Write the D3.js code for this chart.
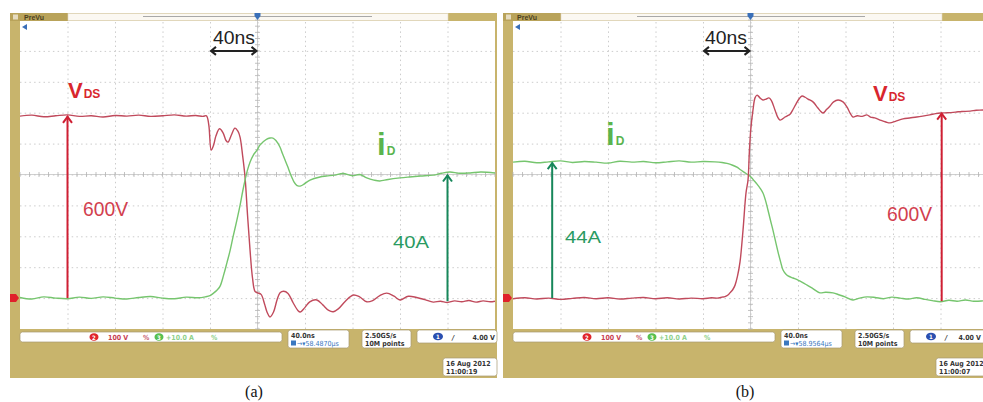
<!DOCTYPE html>
<html><head><meta charset="utf-8">
<script src="https://cdn.jsdelivr.net/npm/d3@7"></script>
<style>body{margin:0;background:#fff}svg{display:block}</style>
</head><body>
<svg id="c" width="983" height="402"></svg>
<script>
// ---------- data ----------
const timeDomain = [-200, 200];   // ns  (40 ns/div, 10 div)
const voltDomain = [-100, 900];   // V   (100 V/div, ground at -4 div)
const ampDomain  = [-10, 90];     // A   (10 A/div, ground at -4 div)
const divDomain  = [-5, 5];
const gridTimes  = [-160, -120, -80, -40, 0, 40, 80, 120, 160];
const gridDivs   = [-4, -3, -2, -1, 0, 1, 2, 3, 4];

// panel (a): turn-on — [time ns, value]
const vdsA = [[-200,589],[-190,592],[-180,587],[-170,590],[-160,593],[-150,588],[-140,590],[-130,586],[-120,591],[-110,589],[-100,592],[-90,588],[-80,590],[-70,593],[-60,589],[-52,591],[-46,588],[-43,590],[-41,560],[-39,479],[-37,495],[-35,525],[-32,548],[-29,535],[-26.5,510],[-24.8,505],[-22,528],[-19,550],[-16.5,540],[-14.7,521],[-12.5,460],[-10.5,392],[-8.4,269],[-6.3,156],[-4.2,65],[-2.1,22],[0,17],[3,12],[6,-20],[8,-45],[10.5,-61],[13.5,-45],[16.5,-5],[19,17],[22,22],[25.7,15],[30,-15],[34,-40],[36,-45],[40,-30],[44,-12],[50,-6],[55,-22],[60,-40],[63.8,-44],[68,-35],[74,-10],[80.7,10],[86,4],[92,-12],[97,-8],[103,8],[108.8,16],[115,6],[120,-6],[127,6],[134,2],[141,-5],[148,-13],[154,-10],[160,-14],[166,-9],[172,-12],[178,-8],[184,-13],[190,-9],[196,-12],[200,-10]];
const idA = [[-200,0.2],[-190,-0.3],[-180,0.4],[-170,0],[-160,-0.2],[-150,0.3],[-140,-0.1],[-130,0.4],[-120,0],[-110,-0.3],[-100,0.2],[-90,0.5],[-80,0],[-70,-0.2],[-60,0.3],[-50,0.1],[-44,0.4],[-40,0.8],[-37,1.6],[-34,2.6],[-31.6,3.8],[-28.5,7.5],[-25.7,11.5],[-23,15.5],[-20.6,19.8],[-17.5,25],[-14.7,30],[-12.5,34.5],[-10.5,38.2],[-8.4,41.5],[-6.3,44],[-3.5,46.3],[-0.4,47.9],[2,49.5],[4.6,50.5],[7.5,51.4],[10.5,51.8],[13,51.8],[15.5,51],[18.9,48.9],[21,46.8],[23.2,44.7],[25.5,42.5],[27.4,40.5],[29,39],[30.7,37.6],[32.5,36.7],[34.1,36.3],[36.5,36.3],[39.2,36.9],[44.2,38.2],[52.6,39.2],[58,39.5],[65,39.8],[72,40.3],[80,39.6],[86,40],[92,38.9],[98,38.2],[103,37.9],[110,38.4],[120,38.9],[128,39.2],[137,39.5],[148,39.8],[155,40.4],[162,40.8],[170,40.4],[179,40.5],[188,40.8],[200,40.5]];

// panel (b): turn-off — [time ns, value]
const vdsB = [[-200,-2],[-190,1],[-180,-3],[-170,0],[-160,-4],[-150,-1],[-140,2],[-130,-2],[-120,1],[-110,-3],[-100,0],[-90,2],[-80,-2],[-70,1],[-60,-3],[-50,0],[-40,-2],[-33,1],[-28,0],[-24,3],[-21.5,5],[-19,10],[-17.3,17],[-15,27],[-13,42],[-11,70],[-8.8,118],[-6.3,220],[-3.8,340],[-2.1,382],[-1,470],[0.2,544],[2.1,609],[3.8,648],[5.5,657],[7,652],[8.5,646],[10.5,641],[13,644],[15.5,648],[17.5,640],[20.6,609],[23,585],[24.8,576],[27,580],[29,586],[31,590],[33.3,595],[36,612],[38.3,628],[41,645],[43.4,654],[46,650],[48.4,644],[52.6,635],[56.8,615],[59,605],[61.1,599],[64,610],[67,622],[70,635],[73.7,641],[77.9,635],[81.3,618],[84,598],[86.3,586],[90,590],[94,588],[98,593],[101,586],[104.6,583],[110,575],[114,570],[117.5,567],[122,572],[128.4,580],[134,583],[140,586],[145,589],[151,593],[156,597],[160,599],[166,600],[172.6,602],[178,604],[185,605],[190,608],[196,609],[200,612]];
const idB = [[-200,44],[-190,44.3],[-180,43.8],[-170,44.1],[-160,44.4],[-150,43.9],[-140,44.2],[-130,44],[-120,43.7],[-110,44.3],[-100,44],[-90,44.2],[-80,43.8],[-70,44.1],[-60,44.4],[-50,44],[-40,44.2],[-30,44.1],[-24,43.9],[-19.8,43.6],[-15,43],[-11,42.3],[-8.8,41.6],[-4,40.4],[0.4,39.2],[3,38],[5.5,36.9],[8,35.6],[10.5,34],[12.5,31.8],[14.7,28.5],[16.8,25.2],[18.9,22],[21,18.5],[23.2,14.9],[25.3,11.8],[27.4,9.1],[29.5,7.9],[31.6,7.2],[35.8,6.5],[40,5.8],[44,5],[47.6,4.2],[52,3.2],[58.5,1.7],[63,1.9],[69.5,1.7],[75,1],[79.6,0.4],[86.3,-0.6],[92,0],[98,0.4],[105,0.2],[112,-0.2],[119,0.3],[126,0],[133,-0.3],[140,0.1],[147,-0.4],[153,-0.8],[160,-1.2],[167,-0.7],[174,-1],[181,-0.6],[188,-1],[196,-0.9],[200,-0.8]];

// annotation values: [time ns, from, to]
const vArrowA = [-160, 0, 590];
const iArrowA = [160, -1, 40];
const vArrowB = [161, -10, 600];
const iArrowB = [-167, 0, 44];
const spanArrow = [-40, 0, 800];   // 40 ns span drawn at the +4 div line (800 V level)

const labelsA = {span:"40ns", v:"600V", i:"40A"};
const labelsB = {span:"40ns", v:"600V", i:"44A"};
const scopeA = ["100 V","+10.0 A","40.0ns","\u2192\u25BE58.4870\u00B5s","2.50GS/s","10M points","4.00 V","16 Aug 2012","11:00:19"];
const scopeB = ["100 V","+10.0 A","40.0ns","\u2192\u25BE58.9564\u00B5s","2.50GS/s","10M points","4.00 V","16 Aug 2012","11:00:07"];
const captions = ["(a)","(b)"];

// ---------- drawing ----------
const svg = d3.select("#c");
const W = 983;
const KHAKI = "#c8b46c", KHAKI_D = "#b9a35a";
const RED_TR = "#c04a5c", GRN_TR = "#76c56e";
const RED_AR = "#cf1f33", GRN_AR = "#17875a";
const SANS = "'Liberation Sans', Arial, Helvetica, sans-serif";
const PT = 20, PB = 329;

function drawPanel(cfg, idx){
  const {L, plotL, vds, id, vArrow, iArrow, labels, scope} = cfg;
  const plotR = plotL + 475;
  const g = svg.append("g");
  const x = d3.scaleLinear().domain(timeDomain).range([plotL, plotR]);
  const yV = d3.scaleLinear().domain(voltDomain).range([PB, PT]);
  const yI = d3.scaleLinear().domain(ampDomain).range([PB, PT]);
  const yD = d3.scaleLinear().domain(divDomain).range([PB, PT]);

  // frame
  g.append("rect").attr("x", L).attr("y", 13).attr("width", plotR - L + 2).attr("height", 365).attr("fill", KHAKI);
  g.append("rect").attr("x", plotL).attr("y", 21).attr("width", 475).attr("height", PB - 21).attr("fill", "#fff");
  // top bar
  g.append("rect").attr("x", L).attr("y", 13).attr("width", 58).attr("height", 8).attr("fill", KHAKI_D);
  g.append("rect").attr("x", L + 58).attr("y", 13.5).attr("width", (cfg.topKhaki - L - 58)).attr("height", 7).attr("fill", "#fbf8f2").attr("stroke", "#e2d8c4").attr("stroke-width", 0.6);
  g.append("line").attr("x1", cfg.barLine[0]).attr("x2", cfg.barLine[1]).attr("y1", 16.5).attr("y2", 16.5).attr("stroke", "#a8a8a8").attr("stroke-width", 1);
  g.append("rect").attr("x", L + 3).attr("y", 14.5).attr("width", 5).attr("height", 5).attr("fill", "#e6dcc0");
  g.append("text").attr("x", L + 14).attr("y", 19.5).attr("font-family", SANS).attr("font-size", 7).attr("font-weight", "bold").attr("fill", "#4a4020").text("PreVu");

  // grid via axes
  const gx = g.append("g").attr("transform", `translate(0,${PB})`)
    .call(d3.axisBottom(x).tickValues(gridTimes).tickSize(-(PB - PT)).tickFormat(""));
  const gy = g.append("g").attr("transform", `translate(${plotL},0)`)
    .call(d3.axisLeft(yD).tickValues(gridDivs).tickSize(-475).tickFormat(""));
  [gx, gy].forEach(a => {
    a.select(".domain").remove();
    a.selectAll(".tick line").attr("stroke", "#cccccc").attr("stroke-dasharray", "1.5,3.2").attr("stroke-width", 1);
  });
  // center cross minor ticks
  const cx = x(0), cy = yD(0);
  g.append("line").attr("x1", plotL).attr("x2", plotR).attr("y1", cy).attr("y2", cy).attr("stroke", "#bcbcbc").attr("stroke-width", 0.7);
  g.append("line").attr("x1", cx).attr("x2", cx).attr("y1", PT).attr("y2", PB).attr("stroke", "#bcbcbc").attr("stroke-width", 0.7);
  g.selectAll(null).data(d3.range(-200, 201, 8)).join("line")
    .attr("x1", d => x(d)).attr("x2", d => x(d)).attr("y1", cy - 2.5).attr("y2", cy + 2.5)
    .attr("stroke", "#b4b4b4").attr("stroke-width", 0.8);
  g.selectAll(null).data(d3.range(-5, 5.01, 0.2)).join("line")
    .attr("y1", d => yD(d)).attr("y2", d => yD(d)).attr("x1", cx - 2.5).attr("x2", cx + 2.5)
    .attr("stroke", "#b4b4b4").attr("stroke-width", 0.8);

  // markers
  g.append("path").attr("d", `M${cx-3},${13} h6 v3 l-3,4 l-3,-4z`).attr("fill", "#3a6fb8");
  g.append("path").attr("d", `M${plotL+2},${27} l5,-3 v6z`).attr("fill", "#3a6fb8");
  g.append("path").attr("d", `M${L},${yV(0)-4} h6 l3,4 l-3,4 h-6z`).attr("fill", "#e0202a");

  // traces
  const clipId = "clip" + idx;
  g.append("clipPath").attr("id", clipId).append("rect").attr("x", plotL).attr("y", 21).attr("width", 475).attr("height", PB - 21);
  const tr = g.append("g").attr("clip-path", `url(#${clipId})`);
  const lineV = d3.line().x(d => x(d[0])).y(d => yV(d[1])).curve(d3.curveCatmullRom.alpha(0.5));
  const lineI = d3.line().x(d => x(d[0])).y(d => yI(d[1])).curve(d3.curveCatmullRom.alpha(0.5));
  const order = cfg.greenFirst ? [["i", id], ["v", vds]] : [["v", vds], ["i", id]];
  order.forEach(([k, d]) => {
    tr.append("path").datum(d).attr("d", k === "v" ? lineV : lineI).attr("fill", "none")
      .attr("stroke", k === "v" ? RED_TR : GRN_TR).attr("stroke-width", 1.4).attr("stroke-linejoin", "round");
  });

  // arrows
  function vArrowDraw(a, y, color){
    const ax = x(a[0]), y0 = y(a[1]), y1 = y(a[2]);
    g.append("line").attr("x1", ax).attr("x2", ax).attr("y1", y0).attr("y2", y1 + 0.5).attr("stroke", color).attr("stroke-width", 2);
    g.append("path").attr("d", `M${ax-4.5},${y1+7} L${ax},${y1+1} L${ax+4.5},${y1+7}`).attr("fill", "none").attr("stroke", color).attr("stroke-width", 2);
  }
  vArrowDraw(vArrow, yV, RED_AR);
  vArrowDraw(iArrow, yI, GRN_AR);
  const sx0 = x(spanArrow[0]), sx1 = x(spanArrow[1]), sy = yV(spanArrow[2]);
  g.append("line").attr("x1", sx0 + 1).attr("x2", sx1 - 1).attr("y1", sy).attr("y2", sy).attr("stroke", "#222").attr("stroke-width", 2);
  g.append("path").attr("d", `M${sx0+6},${sy-4} L${sx0+1},${sy} L${sx0+6},${sy+4} M${sx1-6},${sy-4} L${sx1-1},${sy} L${sx1-6},${sy+4}`)
    .attr("fill", "none").attr("stroke", "#222").attr("stroke-width", 2);

  // labels
  const t = cfg.text;
  g.append("text").attr("x", t.span[0]).attr("y", t.span[1]).attr("font-family", SANS).attr("font-size", 18).attr("fill", "#222")
    .attr("textLength", 42).attr("lengthAdjust", "spacingAndGlyphs").text(labels.span);
  g.append("text").attr("x", t.v[0]).attr("y", t.v[1]).attr("font-family", SANS).attr("font-size", 20).attr("fill", "#d2404e")
    .attr("textLength", 45).attr("lengthAdjust", "spacingAndGlyphs").text(labels.v);
  g.append("text").attr("x", t.i[0]).attr("y", t.i[1]).attr("font-family", SANS).attr("font-size", 17).attr("fill", "#2a9a62")
    .attr("textLength", 36).attr("lengthAdjust", "spacingAndGlyphs").text(labels.i);
  const vt = g.append("text").attr("x", t.vds[0]).attr("y", t.vds[1]).attr("font-family", SANS).attr("font-weight", "bold").attr("fill", "#d8262e");
  vt.append("tspan").attr("font-size", 22).text("V");
  vt.append("tspan").attr("font-size", 12).attr("dx", 1).text("DS");
  const it = g.append("text").attr("x", t.id[0]).attr("y", t.id[1]).attr("font-family", SANS).attr("font-weight", "bold").attr("fill", "#5ab44e");
  it.append("tspan").attr("font-size", 31).text("i");
  it.append("tspan").attr("font-size", 12).attr("dx", 1).text("D");

  // info bar
  const info = g.append("g").attr("font-family", "'DejaVu Sans Condensed','DejaVu Sans',sans-serif").attr("font-size", 7).attr("font-weight", "bold");
  function box(x0, y0, w, h){ info.append("rect").attr("x", x0).attr("y", y0).attr("width", w).attr("height", h).attr("rx", 2.5).attr("fill", "#fff").attr("stroke", "#a89a70").attr("stroke-width", 0.7); }
  box(L + 10, 332, 262, 10);
  info.append("ellipse").attr("cx", L + 84).attr("cy", 337).attr("rx", 4.5).attr("ry", 3.8).attr("fill", "#e0262c");
  info.append("text").attr("x", L + 84).attr("y", 339.5).attr("text-anchor", "middle").attr("fill", "#fff").attr("font-size", 6).text("2");
  info.append("text").attr("x", L + 98).attr("y", 340).attr("fill", "#c84050").text(scope[0]);
  info.append("text").attr("x", L + 133).attr("y", 340).attr("fill", "#c86070").text("%");
  info.append("ellipse").attr("cx", L + 149).attr("cy", 337).attr("rx", 4.5).attr("ry", 3.8).attr("fill", "#58c050");
  info.append("text").attr("x", L + 149).attr("y", 339.5).attr("text-anchor", "middle").attr("fill", "#fff").attr("font-size", 6).text("3");
  info.append("text").attr("x", L + 156).attr("y", 340).attr("fill", "#8ed08a").text(scope[1]);
  info.append("text").attr("x", L + 201).attr("y", 340).attr("fill", "#8ed08a").text("%");
  box(L + 278, 330, 61, 18);
  info.append("text").attr("x", L + 281).attr("y", 337.5).attr("fill", "#333").text(scope[2]);
  info.append("rect").attr("x", L + 281).attr("y", 340.5).attr("width", 5).attr("height", 5).attr("fill", "#3a78c0");
  info.append("text").attr("x", L + 287).attr("y", 346).attr("fill", "#3a78c0").attr("font-weight", "normal").text(scope[3]);
  box(L + 352, 330, 49, 18);
  info.append("text").attr("x", L + 355).attr("y", 337.5).attr("fill", "#333").text(scope[4]);
  info.append("text").attr("x", L + 355).attr("y", 346).attr("fill", "#333").text(scope[5]);
  box(L + 407, 330, 80, 13);
  info.append("ellipse").attr("cx", L + 428).attr("cy", 336.5).attr("rx", 5).attr("ry", 3.8).attr("fill", "#2a4fb0");
  info.append("text").attr("x", L + 428).attr("y", 339).attr("text-anchor", "middle").attr("fill", "#fff").attr("font-size", 6).text("1");
  info.append("text").attr("x", L + 442).attr("y", 340).attr("fill", "#333").attr("font-style", "italic").text("/");
  info.append("text").attr("x", Math.min(L + 485, W - 2)).attr("y", 340).attr("text-anchor", "end").attr("fill", "#333").text(scope[6]);
  box(L + 433, 358, 54, 18);
  info.append("text").attr("x", L + 436).attr("y", 366).attr("fill", "#333").text(scope[7]);
  info.append("text").attr("x", L + 436).attr("y", 374).attr("fill", "#333").text(scope[8]);

  // caption
  svg.append("text").attr("x", cfg.capX).attr("y", 397).attr("text-anchor", "middle")
    .attr("font-family", "'Liberation Serif','Times New Roman',serif").attr("font-size", 16).attr("fill", "#111").text(captions[idx]);
}

drawPanel({L:10, plotL:20, vds:vdsA, id:idA, vArrow:vArrowA, iArrow:iArrowA, labels:labelsA, scope:scopeA,
  topKhaki:448, barLine:[143, 372], greenFirst:false, capX:254,
  text:{span:[213,44], v:[83,216], i:[393,248], vds:[68,98], id:[377,155]}}, 0);
drawPanel({L:503, plotL:513, vds:vdsB, id:idB, vArrow:vArrowB, iArrow:iArrowB, labels:labelsB, scope:scopeB,
  topKhaki:942, barLine:[637, 865], greenFirst:true, capX:745,
  text:{span:[705,44], v:[887,221], i:[565,243], vds:[873,101], id:[606,145]}}, 1);
</script>
</body></html>
